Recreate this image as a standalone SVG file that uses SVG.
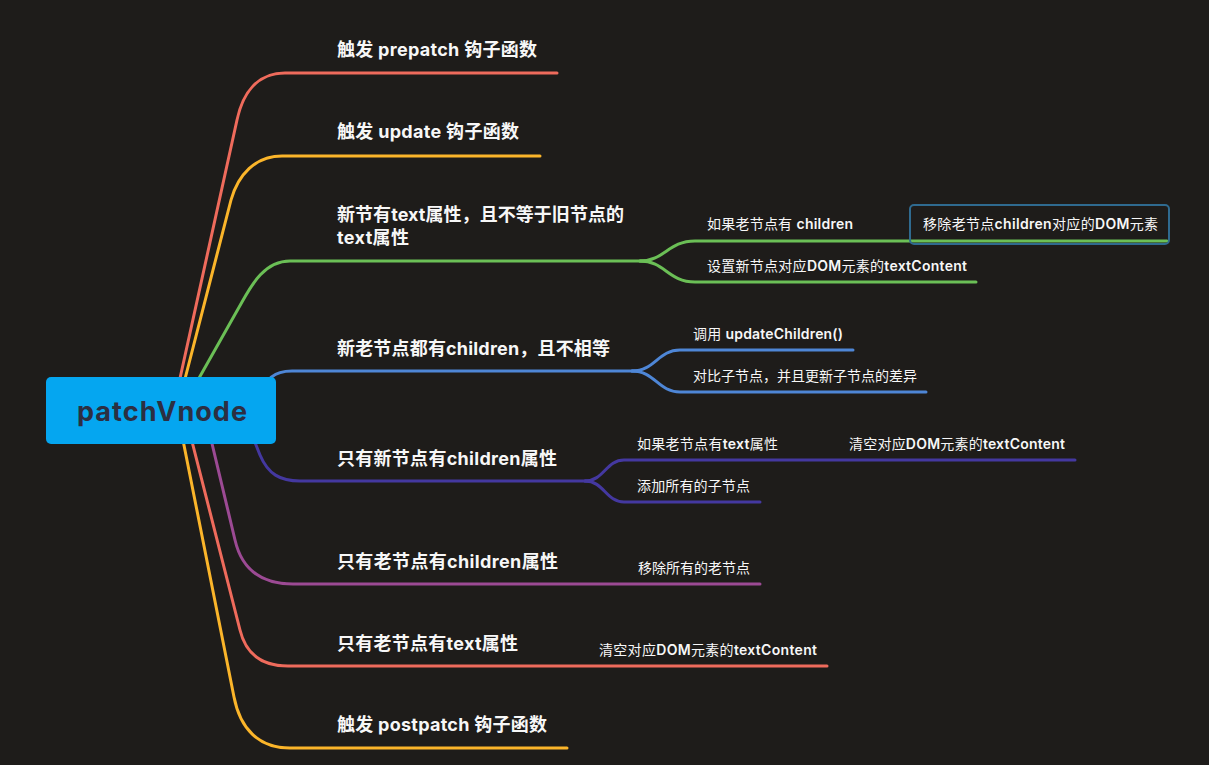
<svg xmlns="http://www.w3.org/2000/svg" width="1209" height="765" viewBox="0 0 1209 765">
<style>
.bg{fill:#1e1c1a}
.c{fill:none;stroke-width:3;stroke-linecap:round;stroke-linejoin:round}
.red{stroke:#ef6b5c}
.yel{stroke:#fbb52a}
.grn{stroke:#6bbf56}
.blu{stroke:#4e86d6}
.ind{stroke:#4438a0}
.pur{stroke:#9c4a94}
.t{font-family:"Inter","Noto Sans CJK SC",sans-serif;font-size:18px;font-weight:700;fill:#f7f7f7}
.s{font-family:"Inter","Noto Sans CJK SC",sans-serif;font-size:14px;font-weight:400;fill:#f7f7f7}
.b{font-weight:600}
.root{fill:#05a6f0}
.rt{font-family:"Inter","Noto Sans CJK SC",sans-serif;font-size:27px;font-weight:700;fill:#2c2f42}
.box{fill:none;stroke:#2f6a8f;stroke-width:2}
</style>
<rect class="bg" x="0" y="0" width="1209" height="765"/>
<g id="connectors">
  <path class="c red" d="M173,410 L237,120 C243,92 258,73 285,73 L557,73"/>
  <path class="c yel" d="M177,410 L231,200 C238,175 255,156 282,156 L540,156"/>
  <path class="c grn" d="M181,410 L242,302 C252,284 265,261 290,261 L645,261"/>
  <path class="c grn" d="M640,261 C665,261 668,241 695,241 L1167,241"/>
  <path class="c grn" d="M640,261 C665,261 668,282 695,282 L976,282"/>
  <path class="c blu" d="M258,400 C266,378 274,371 292,371 L637,371"/>
  <path class="c blu" d="M632,371 C655,371 658,350 680,350 L853,350"/>
  <path class="c blu" d="M632,371 C655,371 658,392 680,392 L926,392"/>
  <path class="c ind" d="M246,420 L260,455 C268,474 280,481 300,481 L590,481"/>
  <path class="c ind" d="M585,481 C604,481 606,460 624,460 L1075,460"/>
  <path class="c ind" d="M585,481 C604,481 606,502 624,502 L760,502"/>
  <path class="c pur" d="M204,410 L235,540 C241,566 258,584 293,584 L760,584"/>
  <path class="c red" d="M184,410 L240,630 C246,655 262,666 288,666 L827,666"/>
  <path class="c yel" d="M177,410 L234,697 C240,728 258,748 290,748 L567,748"/>
</g>
<g id="root">
  <rect class="root" x="46" y="377" width="230" height="67" rx="5"/>
  <text class="rt" x="77" y="421" textLength="170">patchVnode</text>
</g>
<g id="n1"><text class="t" x="337" y="56" textLength="200">触发 prepatch 钩子函数</text></g>
<g id="n2"><text class="t" x="337" y="138" textLength="182">触发 update 钩子函数</text></g>
<g id="n3">
  <text class="t" x="337" y="221" textLength="287">新节有text属性，且不等于旧节点的</text>
  <text class="t" x="337" y="244" textLength="72">text属性</text>
</g>
<g id="n3a"><text class="s" x="707" y="229" textLength="146">如果老节点有 <tspan class="b">children</tspan></text></g>
<g id="n3a1">
  <rect class="box" x="910" y="205" width="259" height="39" rx="4"/>
  <text class="s" x="923" y="229" textLength="235">移除老节点<tspan class="b">children</tspan>对应的<tspan class="b">DOM</tspan>元素</text>
</g>
<g id="n3b"><text class="s" x="707" y="271" textLength="260">设置新节点对应<tspan class="b">DOM</tspan>元素的<tspan class="b">textContent</tspan></text></g>
<g id="n4"><text class="t" x="337" y="355" textLength="273">新老节点都有children，且不相等</text></g>
<g id="n4a"><text class="s" x="693" y="339" textLength="150">调用 <tspan class="b">updateChildren()</tspan></text></g>
<g id="n4b"><text class="s" x="693" y="381" textLength="224">对比子节点，并且更新子节点的差异</text></g>
<g id="n5"><text class="t" x="337" y="465" textLength="220">只有新节点有children属性</text></g>
<g id="n5a"><text class="s" x="637" y="449" textLength="141">如果老节点有<tspan class="b">text</tspan>属性</text></g>
<g id="n5a1"><text class="s" x="849" y="449" textLength="216">清空对应<tspan class="b">DOM</tspan>元素的<tspan class="b">textContent</tspan></text></g>
<g id="n5b"><text class="s" x="637" y="491" textLength="113">添加所有的子节点</text></g>
<g id="n6"><text class="t" x="337" y="568" textLength="221">只有老节点有children属性</text></g>
<g id="n6a"><text class="s" x="638" y="573" textLength="112">移除所有的老节点</text></g>
<g id="n7"><text class="t" x="337" y="650" textLength="181">只有老节点有text属性</text></g>
<g id="n7a"><text class="s" x="599" y="655" textLength="218">清空对应<tspan class="b">DOM</tspan>元素的<tspan class="b">textContent</tspan></text></g>
<g id="n8"><text class="t" x="337" y="731" textLength="210">触发 postpatch 钩子函数</text></g>
</svg>
